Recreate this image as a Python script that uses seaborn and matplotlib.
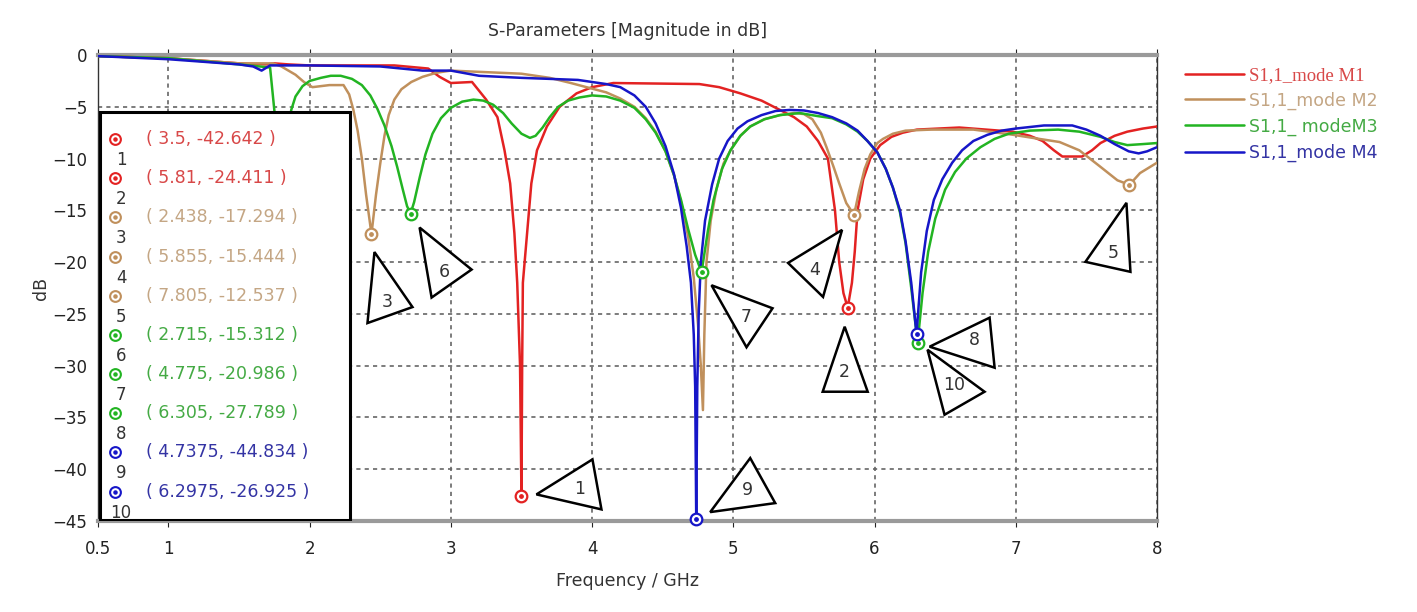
import matplotlib
matplotlib.use("Agg")
import matplotlib.pyplot as plt
import seaborn as sns
from matplotlib.patches import Polygon, Rectangle

sns.set_style("white")
plt.rcParams['font.family'] = ['DejaVu Sans']

# ---- data ----
f_m1 = [0.5, 1.0, 1.5, 1.7, 1.75, 1.85, 2.0, 2.3, 2.6, 2.84, 2.92, 3.0, 3.15, 3.25, 3.33, 3.38,
        3.42, 3.45, 3.47, 3.49, 3.5, 3.505, 3.51, 3.54, 3.57, 3.61, 3.68, 3.77, 3.89, 4.0, 4.15,
        4.76, 4.9, 5.05, 5.2, 5.33, 5.43, 5.52, 5.6, 5.67, 5.72, 5.75, 5.78, 5.81, 5.84, 5.86,
        5.88, 5.92, 5.97, 6.04, 6.12, 6.2, 6.3, 6.6, 6.98, 7.1, 7.19, 7.27, 7.33, 7.47, 7.54,
        7.6, 7.7, 7.79, 7.9, 8.0]
db_m1 = [-0.1, -0.3, -0.8, -0.9, -0.8, -0.9, -1.0, -1.0, -1.0, -1.3, -2.1, -2.7, -2.6, -4.3, -6.0, -9.2,
         -12.4, -17.2, -22.0, -30.0, -42.642, -30.0, -22.0, -17.2, -12.4, -9.2, -6.9, -5.0, -3.7, -3.1, -2.7,
         -2.8, -3.1, -3.7, -4.4, -5.3, -6.0, -6.9, -8.3, -10.0, -15.0, -20.0, -23.0, -24.411, -22.0, -19.0,
         -15.0, -12.0, -10.0, -8.7, -7.9, -7.5, -7.2, -7.0, -7.4, -7.8, -8.3, -9.2, -9.8, -9.8, -9.2,
         -8.5, -7.8, -7.4, -7.1, -6.9]

f_m2 = [0.5, 1.0, 1.5, 1.74, 1.8, 1.85, 1.9, 1.96, 2.02, 2.08, 2.14, 2.2, 2.24, 2.28, 2.31, 2.34,
        2.37, 2.4, 2.438, 2.47, 2.5, 2.53, 2.56, 2.6, 2.65, 2.72, 2.8, 2.9, 3.0, 3.5, 3.7, 3.85,
        3.96, 4.1, 4.2, 4.3, 4.38, 4.45, 4.52, 4.58, 4.63, 4.68, 4.72, 4.75, 4.77, 4.785, 4.795,
        4.81, 4.84, 4.88, 4.93, 4.98, 5.05, 5.12, 5.22, 5.33, 5.43, 5.5, 5.56, 5.62, 5.66, 5.71,
        5.75, 5.8, 5.855, 5.89, 5.93, 5.97, 6.02, 6.06, 6.13, 6.22, 6.4, 6.7, 6.98, 7.12, 7.31,
        7.45, 7.6, 7.72, 7.805, 7.88, 8.0]
db_m2 = [-0.1, -0.3, -0.8, -0.8, -1.1, -1.5, -1.9, -2.6, -3.1, -3.0, -2.9, -2.9, -2.9, -3.8, -5.3, -7.3,
         -10.0, -13.5, -17.294, -13.5, -10.5, -7.8, -5.8, -4.3, -3.3, -2.6, -2.1, -1.7, -1.5, -1.8, -2.2, -2.7,
         -3.1, -3.6, -4.2, -5.0, -6.1, -7.4, -9.3, -11.6, -14.2, -17.5, -21.5, -26.0, -30.0, -34.3, -27.0,
         -20.0, -16.0, -13.0, -10.5, -9.2, -7.8, -6.9, -6.2, -5.8, -5.6, -5.7, -6.2, -7.5, -8.9, -10.8,
         -12.4, -14.3, -15.444, -13.2, -11.0, -9.6, -8.5, -8.1, -7.6, -7.3, -7.2, -7.2, -7.7, -8.0, -8.4,
         -9.2, -10.8, -12.1, -12.537, -11.4, -10.4]

f_m3 = [0.5, 1.0, 1.5, 1.72, 1.75, 1.8, 1.87, 1.9, 1.95, 2.0, 2.08, 2.15, 2.22, 2.3, 2.37, 2.43,
        2.48, 2.53, 2.58, 2.62, 2.66, 2.69, 2.715, 2.74, 2.78, 2.82, 2.87, 2.93, 3.0, 3.08, 3.16,
        3.23, 3.3, 3.37, 3.43, 3.5, 3.56, 3.6, 3.65, 3.7, 3.76, 3.83, 3.91, 4.0, 4.1, 4.2, 4.3,
        4.38, 4.45, 4.52, 4.58, 4.63, 4.68, 4.73, 4.775, 4.82, 4.86, 4.92, 4.98, 5.05, 5.12, 5.22,
        5.33, 5.47, 5.6, 5.7, 5.8, 5.88, 5.95, 6.02, 6.08, 6.13, 6.18, 6.22, 6.26, 6.305, 6.34,
        6.38, 6.43, 6.5, 6.57, 6.65, 6.75, 6.85, 6.95, 7.1, 7.3, 7.45, 7.6, 7.7, 7.79, 7.9, 8.0]
db_m3 = [-0.1, -0.3, -0.9, -1.2, -5.3, -12.0, -5.3, -4.0, -3.0, -2.5, -2.2, -2.0, -2.0, -2.3, -2.9, -3.9,
         -5.2, -6.8, -8.8, -10.8, -13.0, -14.6, -15.312, -14.2, -11.8, -9.6, -7.6, -6.1, -5.1, -4.5, -4.3,
         -4.4, -4.8, -5.6, -6.6, -7.6, -8.0, -7.8, -7.0, -6.0, -5.0, -4.4, -4.1, -3.9, -4.0, -4.4, -5.1,
         -6.2, -7.5, -9.3, -11.6, -14.0, -16.8, -19.3, -20.986, -17.0, -14.0, -11.0, -9.2, -7.8, -6.9, -6.2,
         -5.8, -5.6, -5.9, -6.1, -6.7, -7.4, -8.3, -9.4, -11.0, -12.8, -15.2, -18.2, -22.5, -27.789, -23.0,
         -19.0, -15.8, -13.0, -11.3, -10.0, -8.9, -8.1, -7.6, -7.3, -7.2, -7.4, -7.9, -8.4, -8.7, -8.6, -8.5]

f_m4 = [0.5, 1.0, 1.5, 1.6, 1.66, 1.72, 2.0, 2.5, 2.8, 3.0, 3.2, 3.5, 3.9, 4.1, 4.2, 4.3, 4.38,
        4.45, 4.52, 4.58, 4.63, 4.67, 4.7, 4.72, 4.73, 4.7375, 4.745, 4.755, 4.77, 4.8, 4.85, 4.9,
        4.96, 5.03, 5.1, 5.2, 5.3, 5.4, 5.5, 5.6, 5.7, 5.8, 5.88, 5.95, 6.02, 6.08, 6.13, 6.18,
        6.22, 6.26, 6.2975, 6.33, 6.37, 6.42, 6.48, 6.55, 6.62, 6.7, 6.8, 6.9, 7.0, 7.2, 7.4, 7.5,
        7.6, 7.7, 7.8, 7.87, 7.93, 8.0]
db_m4 = [-0.1, -0.4, -0.9, -1.1, -1.5, -1.0, -1.0, -1.1, -1.5, -1.5, -2.0, -2.2, -2.4, -2.8, -3.1, -3.9, -5.0,
         -6.6, -8.8, -11.5, -14.8, -18.5, -22.0, -27.0, -32.0, -44.834, -32.0, -25.0, -20.0, -16.0, -12.5, -10.0,
         -8.3, -7.1, -6.4, -5.8, -5.4, -5.3, -5.35, -5.6, -6.0, -6.6, -7.3, -8.3, -9.4, -11.0, -12.8, -15.0,
         -18.0, -22.0, -26.925, -21.0, -17.0, -14.0, -12.0, -10.4, -9.2, -8.3, -7.7, -7.3, -7.1, -6.8, -6.8, -7.2,
         -7.8, -8.6, -9.3, -9.5, -9.3, -8.9]

series_names = ["S1,1_mode M1", "S1,1_mode M2", "S1,1_ modeM3", "S1,1_mode M4"]
series_f = [f_m1, f_m2, f_m3, f_m4]
series_db = [db_m1, db_m2, db_m3, db_m4]
line_colors = ["#e32222", "#c0905c", "#22b422", "#1616c8"]
text_colors = ["#d84848", "#c4a684", "#44aa44", "#3434a4"]

# markers 1..10
marker_f = [3.5, 5.81, 2.438, 5.855, 7.805, 2.715, 4.775, 6.305, 4.7375, 6.2975]
marker_db = [-42.642, -24.411, -17.294, -15.444, -12.537, -15.312, -20.986, -27.789, -44.834, -26.925]
marker_series = [0, 0, 1, 1, 1, 2, 2, 2, 3, 3]
marker_text = ["( 3.5, -42.642 )", "( 5.81, -24.411 )", "( 2.438, -17.294 )", "( 5.855, -15.444 )",
               "( 7.805, -12.537 )", "( 2.715, -15.312 )", "( 4.775, -20.986 )", "( 6.305, -27.789 )",
               "( 4.7375, -44.834 )", "( 6.2975, -26.925 )"]

# callout triangles: pixel offsets from marker (x right, y down): 3 corners + label spot
tri_offsets = [
    [(15, -2), (71, -37), (80, 13), (58, -7)],
    [(-3, 19), (-25, 84), (20, 84), (-3, 64)],
    [(3, 18), (-4, 89), (41, 73), (16, 68)],
    [(-12, 15), (-66, 48), (-31, 82), (-39, 55)],
    [(-3, 18), (-44, 77), (1, 87), (-16, 68)],
    [(9, 14), (61, 56), (21, 84), (34, 58)],
    [(10, 13), (71, 36), (45, 75), (45, 45)],
    [(12, 4), (72, -25), (77, 25), (57, -3)],
    [(14, -7), (54, -61), (79, -16), (51, -29)],
    [(11, 16), (28, 81), (68, 58), (38, 51)],
]

fig, ax = plt.subplots(figsize=(14.17, 6.12), dpi=100)
fig.subplots_adjust(left=0.069, right=0.8165, top=0.910, bottom=0.149)

for name, fx, dbx, col in zip(series_names, series_f, series_db, line_colors):
    sns.lineplot(x=fx, y=dbx, ax=ax, color=col, lw=1.8, estimator=None, sort=False,
                 label=name, zorder=3)

ax.set_xlim(0.5, 8)
ax.set_ylim(-45, 0)
ax.set_xticks([0.5, 1, 2, 3, 4, 5, 6, 7, 8])
ax.set_xticklabels(["0.5", "1", "2", "3", "4", "5", "6", "7", "8"])
ax.set_yticks(list(range(0, -50, -5)))
ax.tick_params(axis='both', labelsize=12, colors='#222222', length=4, direction='out')
ax.tick_params(axis='x', top=True, bottom=True, pad=10)
ax.grid(True, color='#666666', ls=(0, (2.5, 2.5)), lw=1.2)
for side in ['top', 'bottom']:
    ax.spines[side].set_color('#9a9a9a')
    ax.spines[side].set_linewidth(3)
for side in ['left', 'right']:
    ax.spines[side].set_color('#333333')
    ax.spines[side].set_linewidth(1)

ax.set_title("S-Parameters [Magnitude in dB]", fontsize=12.5, color='#333333', pad=14)
ax.set_xlabel("Frequency / GHz", fontsize=12.5, color='#333333', labelpad=10)
ax.set_ylabel("dB", fontsize=12.5, color='#333333', labelpad=2)

# right legend
leg = ax.legend(loc='upper left', bbox_to_anchor=(1.02, 0.99), frameon=False, fontsize=12.5,
                handlelength=3.4, handletextpad=0.3, labelspacing=0.45, borderaxespad=0)
for txt, tc in zip(leg.get_texts(), text_colors):
    txt.set_color(tc)
leg.get_texts()[0].set_family('Liberation Serif')
leg.get_texts()[0].set_fontsize(13.5)

# markers on curves
for mf, mdb, ms in zip(marker_f, marker_db, marker_series):
    c = line_colors[ms]
    ax.scatter([mf], [mdb], s=70, facecolors='white', edgecolors=c, linewidths=1.6, zorder=6, clip_on=False)
    ax.scatter([mf], [mdb], s=6, color=c, zorder=7, clip_on=False)

# marker table box
box = Rectangle((0.002, 0.002), 0.236, 0.876, transform=ax.transAxes, facecolor='white',
                edgecolor='black', lw=2.2, zorder=5)
ax.add_patch(box)
row0 = 1 - (139 - 55) / 466
step = 39.2 / 466
for i, (mt, ms) in enumerate(zip(marker_text, marker_series)):
    yy = row0 - i * step
    c = line_colors[ms]
    ax.scatter([0.016], [yy], s=60, facecolors='white', edgecolors=c, linewidths=1.5,
               transform=ax.transAxes, zorder=6)
    ax.scatter([0.016], [yy], s=5, color=c, transform=ax.transAxes, zorder=7)
    ax.text(0.046, yy, mt, transform=ax.transAxes, color=text_colors[ms], fontsize=12.5,
            va='center', ha='left', zorder=7)
    ax.text(0.022, yy - 0.045, str(i + 1), transform=ax.transAxes, color='#333333', fontsize=12,
            va='center', ha='center', zorder=7)

# callout triangles
inv = ax.transData.inverted()
for i, (mf, mdb) in enumerate(zip(marker_f, marker_db)):
    px, py = ax.transData.transform((mf, mdb))
    pts = [inv.transform((px + dx, py - dy)) for dx, dy in tri_offsets[i][:3]]
    ax.add_patch(Polygon(pts, closed=True, facecolor='white', edgecolor='black', lw=1.8,
                         zorder=4, clip_on=False))
    lx, ly = inv.transform((px + tri_offsets[i][3][0], py - tri_offsets[i][3][1]))
    ax.text(lx, ly, str(i + 1), fontsize=12.5, color='#333333', ha='center', va='center',
            zorder=4.5, clip_on=False)

fig.savefig("out.png", dpi=100)
